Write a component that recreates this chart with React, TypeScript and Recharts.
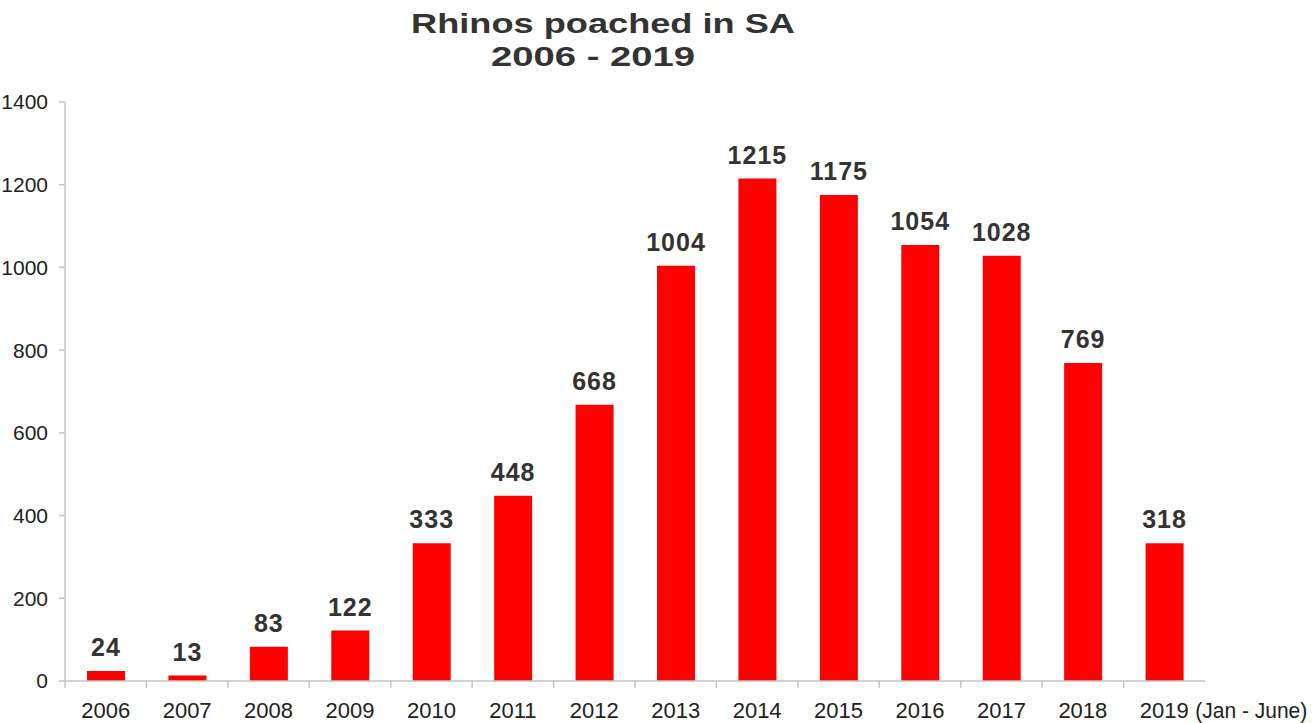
import React from "react";
import { BarChart, Bar, XAxis, YAxis, LabelList } from "recharts";

const categories = ["2006", "2007", "2008", "2009", "2010", "2011", "2012", "2013", "2014", "2015", "2016", "2017", "2018", "2019 (Jan - June)"];
const barValues = [24, 13, 83, 122, 333, 448, 668, 1004, 1215, 1175, 1054, 1028, 769, 333];
const labelValues = [24, 13, 83, 122, 333, 448, 668, 1004, 1215, 1175, 1054, 1028, 769, 318];
const yTicks = [0, 200, 400, 600, 800, 1000, 1200, 1400];
const titleLines = ["Rhinos poached in SA", "2006 - 2019"];

const W = 1312;
const H = 723;
const X_H = 42;
const M = { top: 102, right: 107, left: 0, bottom: 0 };
const Y_W = 65;
const band = (W - M.left - Y_W - M.right) / categories.length;
const FONT = "'Liberation Sans', Arial, Helvetica, sans-serif";
const AXIS_COLOR = "#c4c4c4";

const data = categories.map((c, i) => ({ name: c, value: barValues[i], label: labelValues[i] }));

const XTick = (props: any) => {
  const { x, y, payload } = props;
  const label: string = payload.value;
  const year = label.slice(0, 4);
  const rest = label.slice(4).trim();
  return (
    <g>
      <line x1={x - band / 2} x2={x - band / 2} y1={y} y2={y + 7} stroke={AXIS_COLOR} strokeWidth={1.5} />
      <text x={x} y={y + 37} textAnchor="middle" fontSize={22} fill="#222" fontFamily={FONT}>{year}</text>
      {rest ? (
        <text x={x + 31} y={y + 37} textAnchor="start" fontSize={22} fill="#222" fontFamily={FONT} textLength={112} lengthAdjust="spacingAndGlyphs">{rest}</text>
      ) : null}
    </g>
  );
};

const BarLabel = (props: any) => {
  const { x, y, width, value } = props;
  return (
    <text x={x + width / 2} y={y - 15} textAnchor="middle" fontSize={25} fontWeight="bold" letterSpacing={1} fill="#333" fontFamily={FONT}>
      {value}
    </text>
  );
};

export default function App() {
  return (
    <div style={{ position: "absolute", left: 0, top: 0, width: W, height: H, background: "#fff" }}>
      <svg width={W} height={100} style={{ position: "absolute", left: 0, top: 0 }}>
        <text x={603} y={33} textAnchor="middle" fontSize={28} fontWeight="bold" fill="#333" fontFamily={FONT} textLength={384} lengthAdjust="spacingAndGlyphs">{titleLines[0]}</text>
        <text x={593} y={66} textAnchor="middle" fontSize={28} fontWeight="bold" fill="#333" fontFamily={FONT} textLength={204} lengthAdjust="spacingAndGlyphs">{titleLines[1]}</text>
      </svg>
      <div style={{ position: "absolute", left: 0, top: 0 }}>
        <BarChart width={W} height={H} data={data} margin={M}>
          <XAxis
            dataKey="name"
            interval={0}
            tickLine={false}
            tickSize={0}
            tickMargin={0}
            axisLine={{ stroke: AXIS_COLOR, strokeWidth: 1.5 }}
            tick={<XTick />}
            height={X_H}
          />
          <YAxis
            width={Y_W}
            domain={[0, 1400]}
            ticks={yTicks}
            interval={0}
            tickSize={6}
            tickMargin={11}
            axisLine={{ stroke: AXIS_COLOR, strokeWidth: 1.5 }}
            tickLine={{ stroke: AXIS_COLOR, strokeWidth: 1.5 }}
            tick={{ fontSize: 21, fill: "#222", fontFamily: FONT }}
          />
          <Bar dataKey="value" fill="#ff0000" barSize={38} isAnimationActive={false}>
            <LabelList dataKey="label" content={<BarLabel />} />
          </Bar>
        </BarChart>
      </div>
    </div>
  );
}
